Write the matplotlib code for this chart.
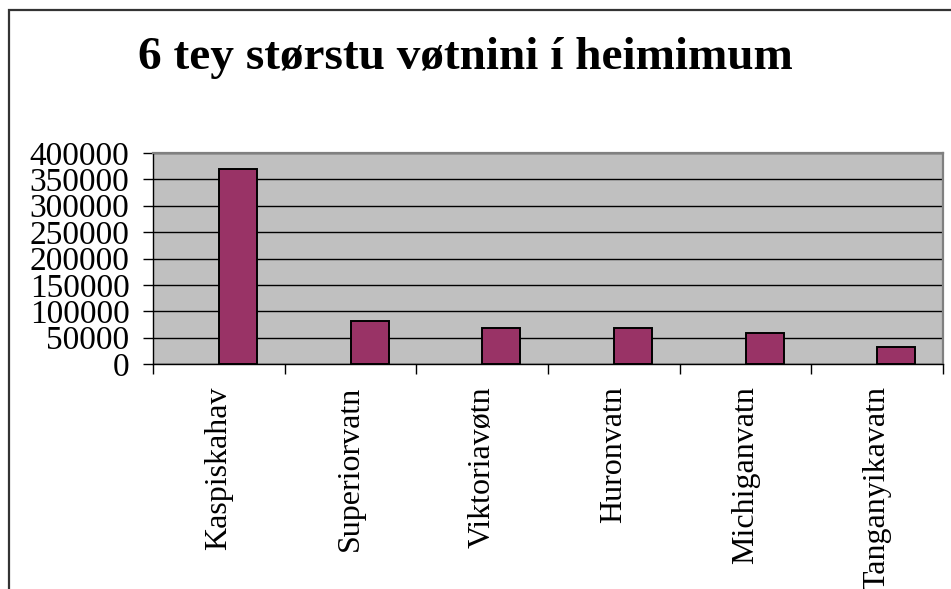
import numpy as np
import matplotlib
matplotlib.use('Agg')
import matplotlib.pyplot as plt
from matplotlib.patches import Rectangle

lakes = ['Kaspiskahav', 'Superiorvatn', 'Viktoriavøtn', 'Huronvatn',
         'Michiganvatn', 'Tanganyikavatn']
area = [369000, 82000, 68800, 68800, 58200, 32200]
yticks = [0, 50000, 100000, 150000, 200000, 250000, 300000, 350000, 400000]
title = '6 tey størstu vøtnini í heimimum'

plt.rcParams['font.family'] = ['Liberation Serif', 'DejaVu Serif']

W, H = 951, 589
fig = plt.figure(figsize=(W / 100, H / 100), dpi=100)
fig.patch.set_facecolor('white')

# outer chart frame (runs off the right/bottom edge like the reference)
fig.patches.append(Rectangle((8.5 / W, -0.2), 1.2, (H - 9.5) / H + 0.2,
                             transform=fig.transFigure, fill=False,
                             edgecolor='#333333', linewidth=1.6))

ax = fig.add_axes([153 / W, 1 - 364 / H, (943 - 153) / W, (364 - 153) / H])
ax.set_facecolor('#C0C0C0')

x = np.arange(len(lakes))
ax.bar(x, area, width=0.29, align='edge', color='#993366',
       edgecolor='black', linewidth=1.4, zorder=3)

ax.set_xlim(-0.5, len(lakes) - 0.5)
ax.set_ylim(0, 400000)
ax.set_yticks(yticks)
ax.set_yticklabels([str(v) for v in yticks], fontsize=24)
ax.yaxis.grid(True, color='black', linewidth=1.0, zorder=1)
ax.set_axisbelow(True)

ax.set_xticks(np.arange(len(lakes) + 1) - 0.5)
ax.set_xticklabels([])
ax.set_xticks(x, minor=True)
ax.set_xticklabels(lakes, minor=True, rotation=90, fontsize=23, va='top')
ax.tick_params(axis='x', which='minor', length=0, pad=16)
ax.tick_params(axis='x', which='major', length=7, width=1, direction='out')
ax.tick_params(axis='y', length=7, width=1, direction='out', pad=10)

for s in ['left', 'bottom']:
    ax.spines[s].set_color('black')
    ax.spines[s].set_linewidth(1.0)
for s in ['right', 'top']:
    ax.spines[s].set_color('#808080')
    ax.spines[s].set_linewidth(1.6)

fig.text(465 / W, 1 - 58 / H, title, ha='center', va='center',
         fontsize=34, fontweight='bold')

fig.savefig('out.png', dpi=100)
